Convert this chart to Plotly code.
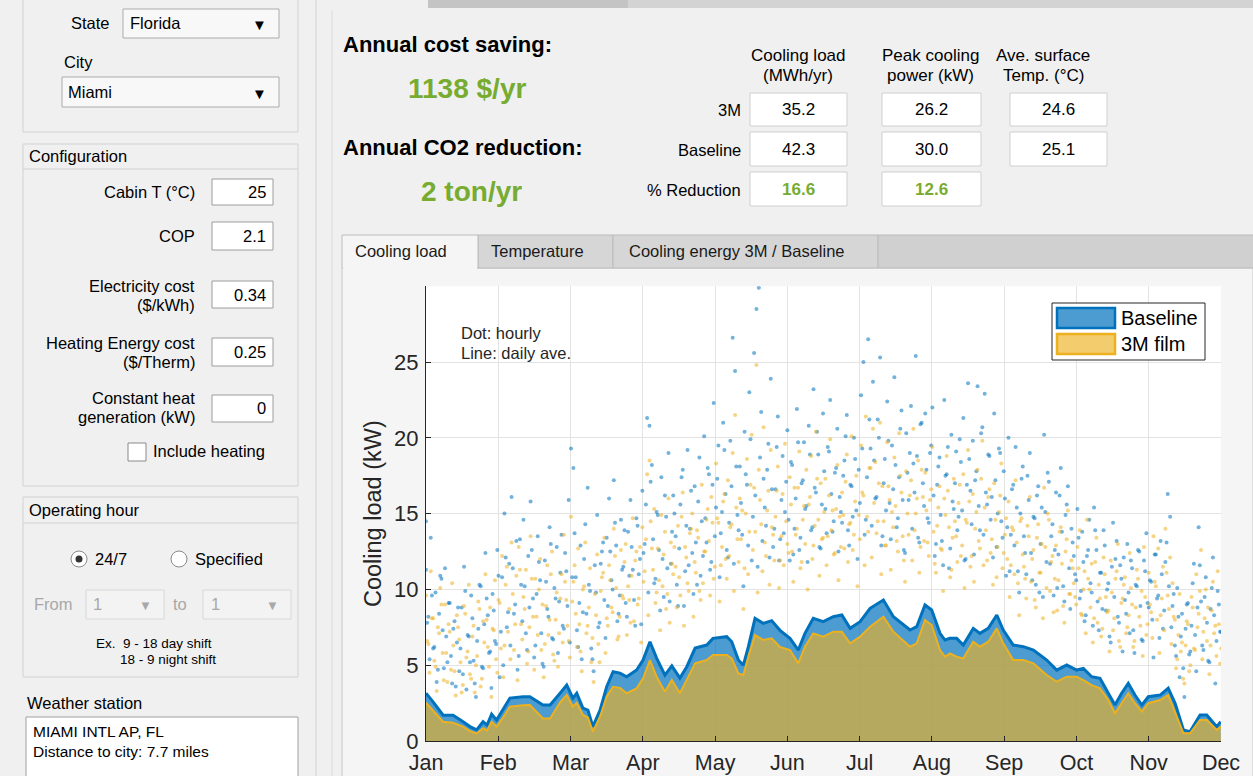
import plotly.graph_objects as go

W, H = 1253, 776
FONT = "Liberation Sans, Arial, Helvetica, sans-serif"

# ---------------- data ----------------
months = ["Jan", "Feb", "Mar", "Apr", "May", "Jun", "Jul", "Aug", "Sep", "Oct", "Nov", "Dec"]
month_pos = [0, 30.4, 60.8, 91.2, 121.6, 152.0, 182.4, 212.8, 243.2, 273.6, 304.0, 334.4]
y_ticks = [0, 5, 10, 15, 20, 25]

daily_day = [0, 2.9, 7.2, 11.4, 15.6, 18.5, 21.3, 24.0, 25.7, 27.6,
             29.7, 32.4, 35.3, 40.8, 43.7, 49.2, 52.2, 56.4, 59.2, 61.8,
             63.4, 66.0, 68.1, 70.2, 73.2, 76.0, 78.7, 81.6, 84.4, 88.6,
             91.3, 94.2, 97.0, 100.5, 103.4, 106.8, 109.7, 113.2, 118.1, 120.7,
             126.5, 128.6, 131.4, 133.5, 135.6, 138.4, 141.9, 145.4, 148.9, 153.1,
             156.6, 159.4, 162.9, 167.1, 171.3, 174.9, 178.4, 182.6, 186.8, 192.4,
             196.6, 203.6, 206.4, 209.9, 212.7, 216.2, 218.3, 220.4, 223.2, 226.0,
             230.2, 233.0, 236.5, 240.1, 242.8, 247.0, 251.3, 255.5, 261.1, 265.3,
             269.5, 273.7, 276.5, 280.0, 283.5, 287.0, 289.8, 292.6, 295.4, 298.2,
             301.1, 303.8, 308.8, 312.2, 315.1, 318.6, 321.4, 325.6, 328.4, 332.6,
             334.3]
baseline_daily = [3.15, 2.6, 1.7, 1.7, 1.27, 0.95, 0.73, 1.27, 1.05, 1.78,
                  1.38, 2.04, 2.83, 2.92, 2.92, 2.37, 2.37, 3.15, 3.69, 2.83,
                  3.15, 2.17, 2.04, 0.95, 2.04, 3.58, 4.57, 4.48, 4.24, 4.68,
                  5.34, 6.55, 5.47, 4.35, 4.95, 4.15, 4.9, 6.13, 6.33, 6.77,
                  6.88, 6.55, 5.34, 5.0, 6.22, 8.09, 7.76, 7.94, 7.3, 6.77,
                  6.0, 7.1, 8.09, 7.87, 8.2, 8.31, 7.43, 7.87, 8.75, 9.3,
                  8.2, 7.32, 7.54, 8.97, 8.64, 7.1, 6.66, 6.77, 6.77, 6.33,
                  7.43, 7.1, 7.43, 8.31, 7.32, 6.33, 6.22, 6.0, 5.34, 4.68,
                  5.01, 4.68, 4.79, 4.24, 4.13, 3.15, 2.37, 3.15, 3.8, 3.03,
                  2.37, 2.92, 3.03, 3.48, 2.49, 0.73, 0.62, 1.72, 1.72, 0.95,
                  1.27]
film_daily = [2.53, 2.0, 1.27, 1.2, 0.95, 0.65, 0.5, 0.84, 0.7, 1.27,
              0.95, 1.55, 2.26, 2.35, 2.37, 1.49, 1.49, 2.55, 3.03, 2.26,
              2.53, 1.72, 1.55, 0.62, 1.6, 2.92, 3.58, 3.5, 3.15, 3.47,
              4.13, 5.34, 4.24, 3.25, 4.02, 3.15, 4.02, 5.12, 5.34, 5.67,
              5.67, 5.45, 4.46, 4.35, 5.56, 6.99, 6.66, 6.77, 6.2, 6.0,
              5.12, 6.22, 7.1, 6.88, 7.21, 7.21, 6.44, 6.88, 7.54, 8.2,
              7.21, 6.22, 6.44, 7.98, 7.65, 6.0, 5.56, 5.78, 5.56, 5.45,
              6.55, 6.22, 6.55, 7.43, 6.44, 5.34, 5.34, 5.12, 4.35, 3.91,
              4.24, 4.24, 4.02, 3.69, 3.47, 2.7, 1.83, 2.49, 3.15, 2.49,
              1.94, 2.49, 2.7, 3.03, 1.94, 0.51, 0.51, 1.39, 1.39, 0.73,
              0.95]

# hourly samples (day, kW)
baseline_hourly = [
    (0, 14.5), (0, 11.3), (1, 8.2), (2, 13.4), (3, 6.1), (4, 9.8), (5, 4.7), (6, 10.9),
    (7, 7.3), (8, 11.4), (9, 5.2), (10, 9.1), (11, 3.8), (12, 7.9), (13, 6.5),
    (14, 4.6), (15, 8.8), (16, 11.5), (17, 3.4), (18, 6.9), (19, 9.6), (20, 5.3),
    (21, 2.9), (22, 7.4), (23, 10.2), (24, 4.8), (25, 12.4), (26, 8.3), (27, 5.9),
    (28, 9.7), (29, 6.6), (30, 12.6), (31, 4.2), (32, 10.8), (33, 15.0), (34, 7.5),
    (35, 11.7), (36, 16.1), (37, 8.4), (38, 13.2), (39, 5.6), (40, 10.3), (41, 14.6),
    (42, 7.1), (43, 12.2), (44, 15.8), (45, 9.4), (46, 6.3), (47, 13.5), (48, 10.6),
    (49, 5.1), (50, 11.9), (51, 8.7), (52, 14.1), (53, 6.8), (54, 10.1), (55, 12.8),
    (56, 9.2), (57, 13.6), (58, 7.4), (59, 11.2), (60, 15.9), (61, 19.3), (62, 18.0),
    (63, 10.8), (64, 6.2), (65, 12.9), (66, 8.5), (67, 14.3), (68, 16.7), (69, 9.9),
    (70, 5.4), (71, 11.6), (72, 14.9), (73, 7.8), (74, 12.5), (75, 9.3), (76, 13.4),
    (77, 16.0), (78, 10.6), (79, 17.2), (80, 12.9), (81, 8.4), (82, 14.6), (83, 11.5),
    (84, 9.1), (85, 13.8), (86, 15.9), (87, 11.3), (88, 7.6), (89, 14.2), (90, 12.0),
    (91, 16.5), (92, 13.0), (93, 21.3), (94, 20.8), (95, 18.2), (96, 10.4), (97, 15.1),
    (98, 12.6), (99, 17.4), (100, 9.5), (101, 14.8), (102, 19.0), (103, 11.7), (104, 16.2),
    (105, 13.5), (106, 8.9), (107, 15.6), (108, 17.9), (109, 11.2), (110, 19.2), (111, 14.0),
    (112, 12.4), (113, 16.8), (114, 10.3), (115, 18.7), (116, 14.5), (117, 20.1), (118, 13.1),
    (119, 17.6), (120, 11.8), (121, 22.3), (122, 15.4), (123, 19.5), (124, 13.7), (125, 21.0),
    (126, 16.3), (127, 12.1), (128, 19.8), (129, 26.6), (130, 24.4), (131, 14.9), (132, 18.1),
    (133, 13.6), (134, 20.4), (135, 16.9), (136, 23.0), (137, 11.9), (138, 25.6), (139, 28.5),
    (140, 29.9), (141, 21.7), (142, 17.3), (143, 14.2), (144, 19.6), (145, 23.9), (146, 12.8),
    (147, 16.6), (148, 21.4), (149, 13.3), (150, 18.8), (151, 15.1), (152, 20.5), (153, 11.9),
    (154, 18.2), (155, 14.0), (156, 21.9), (157, 12.6), (158, 17.0), (159, 19.7), (160, 15.5),
    (161, 20.8), (162, 13.9), (163, 23.2), (164, 16.4), (165, 18.9), (166, 12.7), (167, 21.6),
    (168, 15.3), (169, 19.4), (170, 22.5), (171, 13.8), (172, 17.7), (173, 20.6), (174, 16.1),
    (175, 14.4), (176, 18.5), (177, 21.5), (178, 12.9), (179, 16.8), (180, 20.0), (181, 15.2),
    (182, 17.9), (183, 22.8), (184, 25.0), (185, 14.6), (186, 26.5), (187, 19.3), (188, 23.7),
    (189, 16.0), (190, 21.2), (191, 25.3), (192, 13.5), (193, 18.6), (194, 22.4), (195, 15.7),
    (196, 19.5), (197, 24.0), (198, 14.1), (199, 17.4), (200, 21.8), (201, 12.6), (202, 20.3),
    (203, 15.9), (204, 22.1), (205, 18.3), (206, 25.4), (207, 13.4), (208, 20.9), (209, 17.0),
    (210, 21.6), (211, 14.7), (212, 19.0), (213, 22.0), (214, 12.2), (215, 16.9), (216, 18.7),
    (217, 13.2), (218, 22.5), (219, 17.6), (220, 11.4), (221, 20.2), (222, 15.3), (223, 19.1),
    (224, 14.8), (225, 18.4), (226, 21.3), (227, 12.0), (228, 23.6), (229, 16.5), (230, 19.8),
    (231, 17.2), (232, 23.4), (233, 13.9), (234, 20.7), (235, 22.9), (236, 15.6), (237, 18.8),
    (238, 16.1), (239, 21.6), (240, 12.8), (241, 19.3), (242, 14.5), (243, 17.8), (244, 10.9),
    (245, 20.0), (246, 13.6), (247, 16.9), (248, 19.4), (249, 11.2), (250, 15.0), (251, 18.1),
    (252, 12.4), (253, 17.5), (254, 19.0), (255, 10.6), (256, 14.7), (257, 16.2), (258, 9.8),
    (259, 15.4), (260, 20.2), (261, 11.8), (262, 17.1), (263, 13.5), (264, 9.6), (265, 16.4),
    (266, 12.3), (267, 18.0), (268, 10.2), (269, 14.9), (270, 16.8), (271, 8.7), (272, 13.1),
    (273, 11.0), (274, 15.3), (275, 9.4), (276, 13.8), (277, 7.9), (278, 12.2), (279, 14.6),
    (280, 9.8), (281, 15.4), (282, 12.6), (283, 7.3), (284, 11.1), (285, 13.9), (286, 8.6),
    (287, 10.4), (288, 6.5), (289, 14.4), (290, 12.0), (291, 8.2), (292, 11.6), (293, 5.9),
    (294, 9.3), (295, 13.0), (296, 7.1), (297, 11.4), (298, 5.8), (299, 10.2), (300, 12.5),
    (301, 6.7), (302, 11.9), (303, 13.7), (304, 8.8), (305, 10.5), (306, 5.5), (307, 12.3),
    (308, 9.6), (309, 13.2), (310, 7.4), (311, 11.8), (312, 16.3), (313, 14.8), (314, 8.9),
    (315, 6.3), (316, 10.1), (317, 4.2), (318, 8.4), (319, 2.9), (320, 9.0), (321, 5.7),
    (322, 7.6), (323, 11.7), (324, 4.6), (325, 14.1), (326, 9.2), (327, 6.0), (328, 10.8),
    (329, 5.3), (330, 8.7), (331, 12.1), (332, 3.8), (333, 9.9), (334, 7.2),
]

film_hourly = [
    (0, 9.6), (1, 6.4), (2, 11.2), (3, 8.1), (4, 4.9), (5, 7.5), (6, 10.1),
    (7, 5.8), (8, 9.0), (9, 3.9), (10, 7.2), (11, 10.4), (12, 4.6), (13, 8.3),
    (14, 6.7), (15, 3.2), (16, 8.9), (17, 5.5), (18, 10.3), (19, 4.1), (20, 7.6),
    (21, 5.0), (22, 9.2), (23, 3.6), (24, 7.9), (25, 11.0), (26, 6.2), (27, 8.8),
    (28, 7.4), (29, 10.6), (30, 4.5), (31, 9.1), (32, 12.2), (33, 6.3), (34, 11.5),
    (35, 8.7), (36, 13.1), (37, 6.0), (38, 10.9), (39, 12.8), (40, 7.7), (41, 9.5),
    (42, 11.3), (43, 5.9), (44, 13.5), (45, 8.2), (46, 10.7), (47, 7.0), (48, 12.0),
    (49, 9.0), (50, 6.4), (51, 11.6), (52, 8.0), (53, 12.5), (54, 5.3), (55, 9.8),
    (56, 7.1), (57, 11.0), (58, 13.6), (59, 9.3), (60, 6.6), (61, 14.8), (62, 10.5),
    (63, 8.4), (64, 12.7), (65, 5.9), (66, 10.0), (67, 13.1), (68, 7.6), (69, 11.4),
    (70, 6.8), (71, 9.7), (72, 12.3), (73, 5.2), (74, 10.8), (75, 13.4), (76, 8.1),
    (77, 11.6), (78, 8.8), (79, 14.0), (80, 10.1), (81, 6.9), (82, 12.6), (83, 9.4),
    (84, 13.0), (85, 10.2), (86, 7.8), (87, 14.7), (88, 11.9), (89, 9.0), (90, 12.8),
    (91, 14.1), (92, 11.2), (93, 17.6), (94, 18.5), (95, 12.7), (96, 15.3), (97, 9.8),
    (98, 10.6), (99, 14.9), (100, 12.3), (101, 8.7), (102, 16.0), (103, 13.1), (104, 11.0),
    (105, 11.5), (106, 14.2), (107, 9.6), (108, 16.4), (109, 12.8), (110, 10.4), (111, 13.7),
    (112, 15.0), (113, 11.8), (114, 13.9), (115, 9.9), (116, 16.9), (117, 12.5), (118, 14.6),
    (119, 13.2), (120, 16.1), (121, 10.7), (122, 18.3), (123, 14.4), (124, 11.6), (125, 15.8),
    (126, 12.0), (127, 17.2), (128, 14.1), (129, 19.0), (130, 21.5), (131, 13.3), (132, 16.0),
    (133, 15.2), (134, 11.4), (135, 18.6), (136, 13.8), (137, 20.2), (138, 16.7), (139, 24.8),
    (140, 17.9), (141, 14.3), (142, 20.7), (143, 12.2), (144, 16.5), (145, 19.2), (146, 13.6),
    (147, 14.8), (148, 18.1), (149, 11.9), (150, 16.3), (151, 19.6), (152, 13.0), (153, 17.4),
    (154, 12.5), (155, 16.7), (156, 14.0), (157, 19.1), (158, 11.8), (159, 15.5), (160, 17.9),
    (161, 15.6), (162, 18.8), (163, 12.9), (164, 20.4), (165, 14.6), (166, 17.0), (167, 13.4),
    (168, 17.3), (169, 13.5), (170, 19.9), (171, 15.2), (172, 12.4), (173, 18.2), (174, 14.8),
    (175, 16.4), (176, 12.7), (177, 18.9), (178, 14.3), (179, 20.1), (180, 13.6), (181, 17.5),
    (182, 14.9), (183, 19.5), (184, 16.2), (185, 21.4), (186, 13.8), (187, 18.0), (188, 20.6),
    (189, 18.4), (190, 14.5), (191, 21.0), (192, 16.8), (193, 12.9), (194, 19.7), (195, 15.9),
    (196, 15.1), (197, 18.7), (198, 13.2), (199, 20.3), (200, 16.4), (201, 11.9), (202, 17.8),
    (203, 13.6), (204, 17.2), (205, 20.6), (206, 15.0), (207, 18.5), (208, 12.8), (209, 16.1),
    (210, 17.7), (211, 13.1), (212, 15.9), (213, 19.4), (214, 11.7), (215, 14.2), (216, 16.8),
    (217, 12.6), (218, 16.0), (219, 18.8), (220, 14.1), (221, 11.3), (222, 17.3), (223, 13.5),
    (224, 15.7), (225, 12.2), (226, 17.6), (227, 14.6), (228, 19.2), (229, 11.5), (230, 16.3),
    (231, 14.0), (232, 17.9), (233, 12.7), (234, 19.8), (235, 15.4), (236, 11.9), (237, 16.6),
    (238, 13.3), (239, 17.0), (240, 10.8), (241, 15.1), (242, 18.3), (243, 12.4), (244, 14.7),
    (245, 15.8), (246, 11.6), (247, 13.9), (248, 17.2), (249, 10.4), (250, 14.5), (251, 12.3),
    (252, 10.7), (253, 14.2), (254, 16.1), (255, 12.0), (256, 9.3), (257, 13.4), (258, 11.1),
    (259, 13.0), (260, 16.7), (261, 10.1), (262, 14.6), (263, 11.8), (264, 8.5), (265, 12.9),
    (266, 10.6), (267, 14.1), (268, 8.9), (269, 12.5), (270, 15.2), (271, 9.7), (272, 11.4),
    (273, 9.5), (274, 12.8), (275, 13.9), (276, 8.3), (277, 11.2), (278, 14.6), (279, 10.0),
    (280, 11.7), (281, 8.1), (282, 13.4), (283, 10.3), (284, 6.9), (285, 12.1), (286, 9.5),
    (287, 8.6), (288, 11.9), (289, 7.3), (290, 10.7), (291, 13.0), (292, 6.2), (293, 9.4),
    (294, 10.8), (295, 7.5), (296, 12.4), (297, 9.0), (298, 6.6), (299, 11.3), (300, 8.2),
    (301, 9.9), (302, 12.8), (303, 7.0), (304, 11.1), (305, 8.5), (306, 13.5), (307, 10.2),
    (308, 12.7), (309, 8.3), (310, 11.5), (311, 14.0), (312, 9.6), (313, 12.1), (314, 10.4),
    (315, 8.0), (316, 5.4), (317, 9.7), (318, 6.5), (319, 3.8), (320, 7.9), (321, 4.6),
    (322, 9.5), (323, 6.1), (324, 11.0), (325, 8.4), (326, 12.6), (327, 7.2), (328, 10.0),
    (329, 8.8), (330, 6.3), (331, 10.5), (332, 7.6), (333, 11.2), (334, 5.1),
]

# one extra mid-day sample per day (day 0 .. 334), plotted at day + 0.5
baseline_noon = [
    7.8, 5.4, 9.6, 6.2, 3.9, 8.4, 10.7, 4.8, 6.9, 9.1, 5.6, 7.4, 3.6, 8.8, 6.1, 4.4, 9.9, 7.0, 5.2, 8.1,
    3.8, 6.6, 10.3, 4.9, 7.7, 9.4, 5.8, 3.5, 8.6, 6.4,
    10.9, 7.2, 5.0, 12.1, 8.5, 6.3, 11.4, 9.0, 4.7, 13.3, 7.9, 10.2, 6.0, 8.8, 12.6, 5.5, 9.7, 11.8, 7.1, 4.9,
    10.5, 8.2, 13.0, 6.7, 9.4, 5.8, 11.1, 7.6, 12.4, 8.9,
    6.5, 10.8, 13.7, 7.3, 9.1, 5.4, 12.0, 8.4, 10.3, 6.1, 4.6, 9.8, 7.5, 11.7, 13.1, 6.8, 8.9, 12.5, 10.0, 14.4,
    7.9, 9.6, 11.3, 13.9, 8.2, 10.9, 12.8, 9.3, 14.7, 11.0, 7.7,
    12.4, 15.6, 9.8, 17.1, 13.3, 10.7, 14.9, 8.6, 12.0, 16.2, 11.4, 9.2, 13.8, 15.0, 10.3, 12.7, 17.4, 8.9, 14.2, 11.6,
    16.5, 9.7, 13.1, 15.8, 10.9, 12.2, 14.7, 18.0, 11.3, 16.9,
    13.5, 17.3, 10.8, 15.1, 19.2, 12.6, 14.4, 16.8, 11.7, 18.1, 13.9, 15.7, 10.2, 17.6, 12.9, 19.9, 14.8, 16.2, 11.5, 18.7,
    13.2, 15.4, 17.9, 12.1, 16.6, 14.0, 19.4, 11.9, 15.9, 13.7, 17.1,
    14.6, 18.4, 12.3, 16.0, 19.7, 13.4, 17.2, 15.3, 11.8, 18.9, 14.1, 16.7, 20.4, 12.8, 15.6, 17.8, 13.7, 19.1, 16.3, 14.5,
    18.0, 12.5, 15.1, 17.5, 20.1, 13.9, 16.9, 14.8, 18.6, 12.0,
    15.7, 19.3, 13.6, 17.4, 21.2, 14.2, 18.5, 16.1, 20.0, 12.9, 17.0, 15.2, 19.8, 13.3, 16.6, 18.2, 14.7, 20.6, 15.9, 12.4,
    17.7, 19.0, 14.0, 16.4, 18.8, 13.1, 21.0, 15.5, 17.9, 14.4, 19.5,
    16.2, 13.0, 18.1, 14.9, 11.6, 17.5, 19.4, 12.7, 15.8, 17.0, 13.9, 19.9, 15.2, 11.9, 16.9, 18.6, 14.3, 12.3, 17.8, 15.5,
    20.3, 13.6, 16.4, 18.9, 14.6, 12.1, 17.2, 15.0, 19.0, 13.4, 16.0,
    14.1, 11.2, 16.6, 12.9, 15.4, 9.8, 17.3, 13.5, 11.0, 15.9, 12.4, 14.8, 10.3, 16.8, 13.0, 9.5, 15.1, 17.7, 11.7, 14.3,
    12.6, 10.1, 16.2, 13.8, 9.2, 15.6, 11.4, 14.0, 12.2, 10.6,
    13.4, 9.9, 11.8, 8.3, 12.6, 10.4, 7.6, 13.9, 9.2, 11.1, 8.7, 12.9, 10.0, 6.9, 11.5, 9.5, 13.2, 7.8, 10.7, 12.1,
    8.4, 9.8, 11.9, 7.3, 10.3, 12.6, 8.9, 6.6, 11.2, 9.1,
    10.6, 8.0, 12.3, 9.4, 6.8, 11.0, 8.6, 13.1, 10.2, 7.5, 9.7, 5.6, 8.2, 6.9, 4.8, 7.4, 9.1, 5.9, 10.4, 7.0,
    8.8, 11.6, 6.3, 9.5, 7.8, 5.2, 10.1, 8.3, 6.6, 9.0, 7.2,
]
film_noon = [
    6.6, 4.5, 8.1, 5.3, 3.3, 7.1, 9.0, 4.0, 5.8, 7.7, 4.7, 6.3, 3.0, 7.5, 5.2, 3.7, 8.4, 5.9, 4.4, 6.9,
    3.2, 5.6, 8.7, 4.1, 6.5, 8.0, 4.9, 2.9, 7.3, 5.4,
    9.3, 6.1, 4.2, 10.3, 7.2, 5.4, 9.7, 7.7, 4.0, 11.3, 6.7, 8.7, 5.1, 7.5, 10.7, 4.7, 8.2, 10.0, 6.0, 4.2,
    8.9, 7.0, 11.0, 5.7, 8.0, 4.9, 9.4, 6.5, 10.5, 7.6,
    5.5, 9.2, 11.6, 6.2, 7.7, 4.6, 10.2, 7.1, 8.8, 5.2, 3.9, 8.3, 6.4, 9.9, 11.1, 5.8, 7.6, 10.6, 8.5, 12.2,
    6.7, 8.2, 9.6, 11.8, 7.0, 9.3, 10.9, 7.9, 12.5, 9.4, 6.5,
    10.5, 13.3, 8.3, 14.5, 11.3, 9.1, 12.7, 7.3, 10.2, 13.8, 9.7, 7.8, 11.7, 12.8, 8.8, 10.8, 14.8, 7.6, 12.1, 9.9,
    14.0, 8.2, 11.1, 13.4, 9.3, 10.4, 12.5, 15.3, 9.6, 14.4,
    11.5, 14.7, 9.2, 12.8, 16.3, 10.7, 12.2, 14.3, 9.9, 15.4, 11.8, 13.3, 8.7, 15.0, 11.0, 16.9, 12.6, 13.8, 9.8, 15.9,
    11.2, 13.1, 15.2, 10.3, 14.1, 11.9, 16.5, 10.1, 13.5, 11.6, 14.5,
    12.4, 15.6, 10.5, 13.6, 16.7, 11.4, 14.6, 13.0, 10.0, 16.1, 12.0, 14.2, 17.3, 10.9, 13.3, 15.1, 11.6, 16.2, 13.9, 12.3,
    15.3, 10.6, 12.8, 14.9, 17.1, 11.8, 14.4, 12.6, 15.8, 10.2,
    13.3, 16.4, 11.6, 14.8, 18.0, 12.1, 15.7, 13.7, 17.0, 11.0, 14.5, 12.9, 16.8, 11.3, 14.1, 15.5, 12.5, 17.5, 13.5, 10.5,
    15.0, 16.2, 11.9, 13.9, 16.0, 11.1, 17.9, 13.2, 15.2, 12.2, 16.6,
    13.8, 11.1, 15.4, 12.7, 9.9, 14.9, 16.5, 10.8, 13.4, 14.5, 11.8, 16.9, 12.9, 10.1, 14.4, 15.8, 12.2, 10.5, 15.1, 13.2,
    17.3, 11.6, 13.9, 16.1, 12.4, 10.3, 14.6, 12.8, 16.2, 11.4, 13.6,
    12.0, 9.5, 14.1, 11.0, 13.1, 8.3, 14.7, 11.5, 9.4, 13.5, 10.5, 12.6, 8.8, 14.3, 11.1, 8.1, 12.8, 15.0, 9.9, 12.2,
    10.7, 8.6, 13.8, 11.7, 7.8, 13.3, 9.7, 11.9, 10.4, 9.0,
    11.4, 8.4, 10.0, 7.1, 10.7, 8.8, 6.5, 11.8, 7.8, 9.4, 7.4, 11.0, 8.5, 5.9, 9.8, 8.1, 11.2, 6.6, 9.1, 10.3,
    7.1, 8.3, 10.1, 6.2, 8.8, 10.7, 7.6, 5.6, 9.5, 7.7,
    9.0, 6.8, 10.5, 8.0, 5.8, 9.4, 7.3, 11.1, 8.7, 6.4, 8.2, 4.8, 7.0, 5.9, 4.1, 6.3, 7.7, 5.0, 8.8, 6.0,
    7.5, 9.9, 5.4, 8.1, 6.6, 4.4, 8.6, 7.1, 5.6, 7.7, 6.1,
]

# summary table values
table_cols = ["Cooling load<br>(MWh/yr)", "Peak cooling<br>power (kW)", "Ave. surface<br>Temp. (°C)"]
row_labels = ["3M", "Baseline", "% Reduction"]
val_3m = ["35.2", "26.2", "24.6"]
val_base = ["42.3", "30.0", "25.1"]
val_red = ["16.6", "12.6"]
cost_saving = "1138 $/yr"
co2_reduction = "2 ton/yr"

# ---------------- helpers ----------------
def X(px):
    return px / W

def Y(py):
    return 1 - py / H

shapes, annos = [], []

def rect(x0, y0, x1, y1, fill="rgba(0,0,0,0)", line=None, lw=1, layer="above"):
    shapes.append(dict(type="rect", xref="paper", yref="paper",
                       x0=X(x0), x1=X(x1), y0=Y(y1), y1=Y(y0),
                       fillcolor=fill,
                       line=dict(color=line if line else "rgba(0,0,0,0)", width=lw if line else 0),
                       layer=layer))

def seg(x0, y0, x1, y1, color, lw=1, layer="above"):
    shapes.append(dict(type="line", xref="paper", yref="paper",
                       x0=X(x0), x1=X(x1), y0=Y(y0), y1=Y(y1),
                       line=dict(color=color, width=lw), layer=layer))

def circ(cx, cy, r, fill, line=None, lw=1):
    shapes.append(dict(type="circle", xref="paper", yref="paper",
                       x0=X(cx - r), x1=X(cx + r), y0=Y(cy + r), y1=Y(cy - r),
                       fillcolor=fill,
                       line=dict(color=line if line else "rgba(0,0,0,0)", width=lw if line else 0),
                       layer="above"))

def txt(x, y, s, size=16.5, color="#000000", anchor="left", angle=0):
    annos.append(dict(xref="paper", yref="paper", x=X(x), y=Y(y), text=s,
                      showarrow=False, xanchor=anchor, yanchor="middle",
                      textangle=angle, borderpad=0,
                      font=dict(size=size, color=color, family=FONT)))

# ---------------- left panel ----------------
PANEL_LINE = "#d2d2d2"
BOX_LINE = "#9c9c9c"
GRAY_TXT = "#a8a8a8"

seg(316, 0, 316, 776, "#d0d0d0")
seg(332, 10, 332, 776, "#dcdcdc")

# location panel
rect(23, -5, 298, 132, line=PANEL_LINE)
txt(111, 23, "State", anchor="right")
rect(123, 9, 279, 38, fill="#f8f8f8", line="#acacac")
txt(129, 23, "Florida")
txt(259, 24, "▼", size=15, anchor="center")
txt(78, 62, "City", anchor="center")
rect(62, 77, 279, 107, fill="#f8f8f8", line="#acacac")
txt(67, 92, "Miami")
txt(259, 93, "▼", size=15, anchor="center")

# configuration panel
rect(23, 144, 298, 486, line=PANEL_LINE)
seg(23, 169, 298, 169, PANEL_LINE)
txt(28, 156, "Configuration")
txt(196, 192, "Cabin T (°C)", anchor="right")
rect(212, 179, 273, 205, fill="white", line=BOX_LINE)
txt(267, 192, "25", anchor="right")
txt(196, 236, "COP", anchor="right")
rect(212, 222, 273, 250, fill="white", line=BOX_LINE)
txt(267, 236, "2.1", anchor="right")
txt(196, 286, "Electricity cost", anchor="right")
txt(196, 305, "($/kWh)", anchor="right")
rect(212, 281, 273, 308, fill="white", line=BOX_LINE)
txt(267, 295, "0.34", anchor="right")
txt(196, 343, "Heating Energy cost", anchor="right")
txt(196, 362, "($/Therm)", anchor="right")
rect(212, 338, 273, 366, fill="white", line=BOX_LINE)
txt(267, 352, "0.25", anchor="right")
txt(196, 398, "Constant heat", anchor="right")
txt(196, 417, "generation (kW)", anchor="right")
rect(212, 395, 273, 422, fill="white", line=BOX_LINE)
txt(267, 408, "0", anchor="right")
rect(128, 443, 146, 461, fill="white", line="#8a8a8a")
txt(152, 451, "Include heating")

# operating hour panel
rect(23, 497, 298, 677, line=PANEL_LINE)
seg(23, 523, 298, 523, PANEL_LINE)
txt(28, 510, "Operating hour")
circ(79, 559, 8, "white", "#8a8a8a")
circ(79, 559, 3.5, "#333333")
txt(94, 559, "24/7")
circ(179, 559, 8, "white", "#8a8a8a")
txt(194, 559, "Specified")
txt(33, 604, "From", color=GRAY_TXT)
rect(86, 590, 164, 619, fill="#f3f3f3", line="#d8d8d8")
txt(92, 604, "1", color=GRAY_TXT)
txt(145, 605, "▼", size=13, color=GRAY_TXT, anchor="center")
txt(172, 604, "to", color=GRAY_TXT)
rect(203, 590, 291, 619, fill="#f3f3f3", line="#d8d8d8")
txt(210, 604, "1", color=GRAY_TXT)
txt(272, 605, "▼", size=13, color=GRAY_TXT, anchor="center")
txt(95, 643, "Ex.&nbsp; 9 - 18 day shift", size=13.5)
txt(119, 659, "18 - 9 night shift", size=13.5)

# weather station
txt(26, 703, "Weather station")
rect(26, 717, 298, 800, fill="white", line="#a0a0a0")
txt(32, 731, "MIAMI INTL AP, FL", size=15.5)
txt(32, 751, "Distance to city: 7.7 miles", size=15.5)

# ---------------- top right ----------------
rect(428, 0, 628, 8, fill="#c4c4c4")
rect(628, 0, 1253, 8, fill="#d3d3d3")

GREEN = "#77ac30"
txt(342, 44, "<b>Annual cost saving:</b>", size=22)
txt(467, 88, "<b>" + cost_saving + "</b>", size=28, color=GREEN, anchor="center")
txt(342, 147, "<b>Annual CO2 reduction:</b>", size=22)
txt(471, 191, "<b>" + co2_reduction + "</b>", size=28, color=GREEN, anchor="center")

col_x = [(750, 847), (882, 981), (1010, 1107)]
hdr_cx = [798, 930, 1043]
row_y = [(93, 126), (132, 166), (172, 206)]
for cx, h in zip(hdr_cx, table_cols):
    a, b = h.split("<br>")
    txt(cx, 56, a, size=17, anchor="center")
    txt(cx, 76, b, size=17, anchor="center")
for (y0, y1), lab in zip(row_y, row_labels):
    txt(742, (y0 + y1) / 2 + 1, lab, size=16.5, anchor="right")
for r, vals in enumerate([val_3m, val_base, val_red]):
    y0, y1 = row_y[r]
    for c, v in enumerate(vals):
        x0, x1 = col_x[c]
        rect(x0, y0, x1, y1, fill="white", line="#cfcfcf")
        if r == 2:
            txt((x0 + x1) / 2, (y0 + y1) / 2, "<b>" + v + "</b>", size=17, color=GREEN, anchor="center")
        else:
            txt((x0 + x1) / 2, (y0 + y1) / 2, v, size=17, anchor="center")

# ---------------- tabs ----------------
rect(342, 268, 1253, 800, fill="#f5f5f5", line="#c8c8c8", layer="below")
rect(426, 286.2, 1221, 741, fill="white", layer="below")
rect(478, 235, 613, 268, fill="#d6d6d6", line="#bcbcbc")
rect(613, 235, 878, 268, fill="#d6d6d6", line="#bcbcbc")
rect(878, 235, 1260, 268, fill="#d0d0d0", line="#bcbcbc")
rect(342, 235, 478, 268, fill="#f5f5f5", line="#bcbcbc")
rect(343, 265, 477, 271, fill="#f5f5f5")
txt(401, 251, "Cooling load", anchor="center", color="#1a1a1a")
txt(537, 251, "Temperature", anchor="center", color="#1a1a1a")
txt(737, 251, "Cooling energy 3M / Baseline", anchor="center", color="#1a1a1a")

# ---------------- chart ----------------
AX = "#262626"
BLUE = "#0072bd"
YEL = "#edb120"

b_x = [d for d, v in baseline_hourly] + [d + 0.5 for d in range(len(baseline_noon))]
b_y = [v for d, v in baseline_hourly] + baseline_noon
f_x = [d for d, v in film_hourly] + [d + 0.5 for d in range(len(film_noon))]
f_y = [v for d, v in film_hourly] + film_noon

fig = go.Figure()
fig.add_trace(go.Scatter(x=b_x, y=b_y, mode="markers",
                         marker=dict(size=4, color="rgba(0,114,189,0.55)", line=dict(width=0)),
                         hoverinfo="skip", name="Baseline hourly"))
fig.add_trace(go.Scatter(x=f_x, y=f_y, mode="markers",
                         marker=dict(size=4, color="rgba(237,177,32,0.55)", line=dict(width=0)),
                         hoverinfo="skip", name="3M film hourly"))
fig.add_trace(go.Scatter(x=daily_day, y=baseline_daily, mode="lines", fill="tozeroy",
                         fillcolor="rgba(0,114,189,0.70)", line=dict(color=BLUE, width=3),
                         hoverinfo="skip", name="Baseline"))
fig.add_trace(go.Scatter(x=daily_day, y=film_daily, mode="lines", fill="tozeroy",
                         fillcolor="rgba(237,177,32,0.65)", line=dict(color=YEL, width=2),
                         hoverinfo="skip", name="3M film"))

txt(460, 333, "Dot: hourly", size=16.5, color=AX)
txt(460, 353, "Line: daily ave.", size=16.5, color=AX)
txt(373, 514, "Cooling load (kW)", size=23.5, color=AX, anchor="center", angle=-90)

# manual legend
rect(1052, 303, 1205, 360, fill="white", line=AX, lw=1)
rect(1057, 308, 1115, 328, fill="rgb(77,156,209)", line=BLUE, lw=2.5)
rect(1057, 334, 1115, 354, fill="rgb(243,204,110)", line=YEL, lw=2.5)
txt(1120, 318, "Baseline", size=20, color="#000000")
txt(1120, 344, "3M film", size=20, color="#000000")

fig.update_layout(
    width=W, height=H, margin=dict(l=0, r=0, t=0, b=0, autoexpand=False),
    paper_bgcolor="#f0f0f0", plot_bgcolor="white", showlegend=False,
    xaxis=dict(domain=[X(426), X(1221)], range=[0, 334.4], tickvals=month_pos, ticktext=months,
               showgrid=True, gridcolor="#e3e3e3", gridwidth=1, zeroline=False, automargin=False,
               showline=True, linecolor=AX, linewidth=1, ticks="inside", ticklen=5, tickcolor=AX,
               tickfont=dict(size=21.5, color=AX, family=FONT), ticklabelstandoff=2, fixedrange=True),
    yaxis=dict(domain=[Y(741), Y(286.2)], range=[0, 30], tickvals=y_ticks,
               showgrid=True, gridcolor="#e3e3e3", gridwidth=1, zeroline=False, automargin=False,
               showline=True, linecolor=AX, linewidth=1, ticks="inside", ticklen=5, tickcolor=AX,
               tickfont=dict(size=22, color=AX, family=FONT), ticklabelstandoff=2, fixedrange=True),
    shapes=shapes, annotations=annos,
    font=dict(family=FONT),
)

fig.write_html(
    "out.html",
    config={"displayModeBar": False},
    post_script="document.documentElement.style.margin='0';document.body.style.margin='0';"
                "document.body.style.overflow='hidden';document.body.style.background='#f0f0f0';",
)
